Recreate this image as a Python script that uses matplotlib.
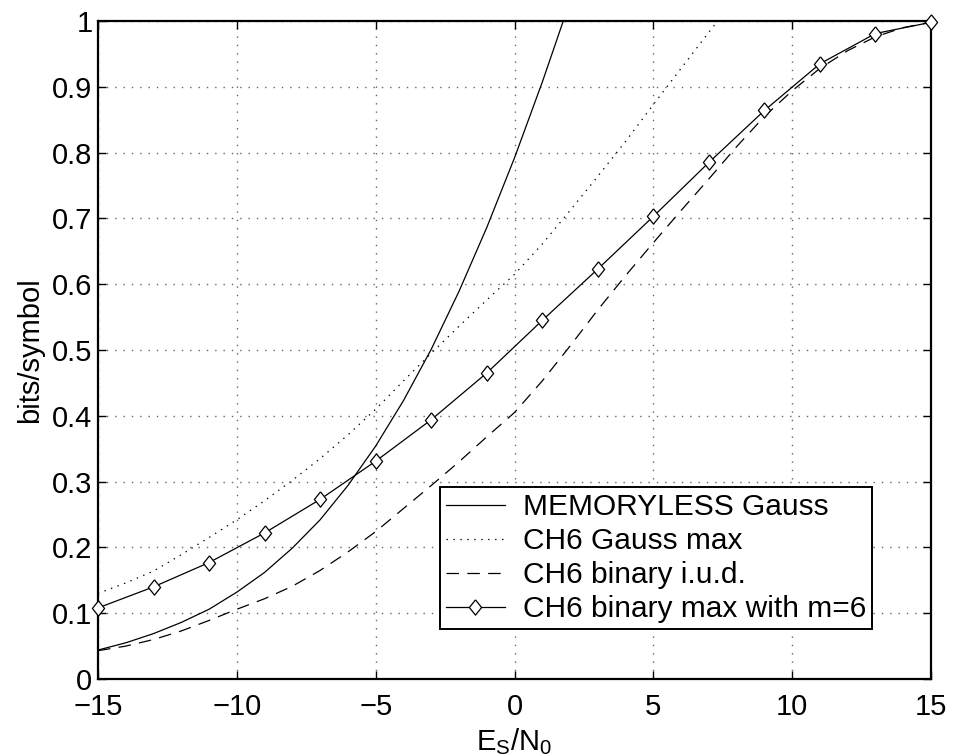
import matplotlib
matplotlib.use('Agg')
import matplotlib.pyplot as plt
import numpy as np

plt.rcParams['font.family'] = ['Liberation Sans', 'DejaVu Sans']
plt.rcParams['mathtext.fontset'] = 'custom'
plt.rcParams['mathtext.rm'] = 'Liberation Sans'
plt.rcParams['mathtext.it'] = 'Liberation Sans'
plt.rcParams['lines.scale_dashes'] = False

# E_S/N_0 grid of the smooth curves
snr_mem = [-15, -14, -13, -12, -11, -10, -9, -8, -7, -6, -5, -4, -3, -2, -1, 0, 1, 2]
memoryless_gauss = [0.044, 0.055, 0.069, 0.086, 0.106, 0.132, 0.162, 0.199, 0.242,
                    0.294, 0.354, 0.423, 0.501, 0.589, 0.686, 0.792, 0.907, 1.03]

snr_gmax = [-15, -14, -13, -12, -11, -10, -9, -8, -7, -6, -5, -4, -3, -2, -1, 0, 1, 2, 3, 4, 5, 6, 7, 8]
ch6_gauss_max = [0.130, 0.146, 0.164, 0.189, 0.215, 0.242, 0.271, 0.302, 0.335, 0.371,
                 0.410, 0.453, 0.495, 0.536, 0.576, 0.615, 0.661, 0.712, 0.764, 0.817,
                 0.873, 0.928, 0.983, 1.036]

snr_iud = list(range(-15, 16))
ch6_binary_iud = [0.043, 0.050, 0.060, 0.073, 0.089, 0.106, 0.122, 0.141, 0.165, 0.193,
                  0.224, 0.259, 0.294, 0.330, 0.368, 0.405, 0.453, 0.506, 0.561, 0.613,
                  0.663, 0.712, 0.760, 0.809, 0.855, 0.894, 0.928, 0.955, 0.976, 0.990, 0.998]

snr_bmax = [-15, -13, -11, -9, -7, -5, -3, -1, 1, 3, 5, 7, 9, 11, 13, 15]
ch6_binary_max = [0.108, 0.140, 0.177, 0.222, 0.273, 0.331, 0.394, 0.465,
                  0.545, 0.623, 0.703, 0.785, 0.864, 0.935, 0.981, 0.998]

x_ticks = [-15, -10, -5, 0, 5, 10, 15]
x_tick_labels = ['\u221215', '\u221210', '\u22125', '0', '5', '10', '15']
y_ticks = [0, 0.1, 0.2, 0.3, 0.4, 0.5, 0.6, 0.7, 0.8, 0.9, 1]
y_tick_labels = ['0', '0.1', '0.2', '0.3', '0.4', '0.5', '0.6', '0.7', '0.8', '0.9', '1']

FS = 21
diamond = [(0, 1), (0.8, 0), (0, -1), (-0.8, 0), (0, 1)]

fig = plt.figure(figsize=(9.55, 7.56), dpi=100)
ax = fig.add_axes([98 / 955, 1 - 679 / 756, 833 / 955, 658 / 756])

ax.plot(snr_mem, memoryless_gauss, color='k', lw=0.9, label='MEMORYLESS Gauss')
ax.plot(snr_gmax, ch6_gauss_max, color='k', lw=0.9, linestyle=(0, (1, 4)),
        label='CH6 Gauss max')
ax.plot(snr_iud, ch6_binary_iud, color='k', lw=0.9, linestyle=(0, (9, 6)),
        label='CH6 binary i.u.d.')
ax.plot(snr_bmax, ch6_binary_max, color='k', lw=0.9, marker=diamond, markersize=11,
        markerfacecolor='white', markeredgecolor='k', markeredgewidth=0.9,
        label='CH6 binary max with m=6', clip_on=False, zorder=5)

ax.set_xlim(-15, 15)
ax.set_ylim(0, 1)
ax.set_xticks(x_ticks)
ax.set_xticklabels(x_tick_labels)
ax.set_yticks(y_ticks)
ax.set_yticklabels(y_tick_labels)
ax.tick_params(direction='in', length=6, width=1, top=True, right=True,
               labelsize=FS)
ax.tick_params(axis='x', pad=10)
ax.tick_params(axis='y', pad=4)
for s in ax.spines.values():
    s.set_linewidth(1.6)
ax.grid(True, color='0.4', linestyle=(0, (1, 5)), linewidth=1)

ax.set_xlabel(r'$\mathrm{E_S/N_0}$', fontsize=FS, labelpad=4)
ax.set_ylabel('bits/symbol', fontsize=FS, labelpad=6)

leg = ax.legend(loc='lower left', bbox_to_anchor=(0.41, 0.076), fontsize=21.5,
                numpoints=1, fancybox=False, framealpha=1, edgecolor='k',
                borderpad=0.2, labelspacing=0.2, handlelength=2.0,
                handletextpad=0.6, borderaxespad=0)
leg.get_frame().set_linewidth(1.4)

fig.savefig('out.png', dpi=100)
